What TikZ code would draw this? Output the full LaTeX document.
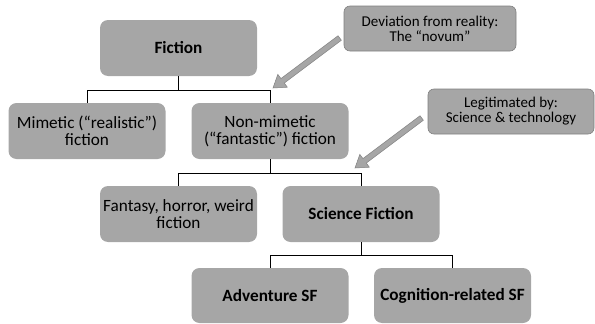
\documentclass[tikz,border=0pt]{standalone}
\usepackage{fontspec}
\setmainfont{Carlito}
\usetikzlibrary{calc}
\definecolor{boxgray}{HTML}{A6A6A6}
\definecolor{linegray}{HTML}{808080}

\newcommand{\blockarrow}[2]{%
    \coordinate (h) at ($(#2)!12pt!(#1)$);
    \draw[draw=linegray, fill=boxgray, line width=0.5pt]
        ($(#1)!2.8pt!90:(#2)$) -- ($(h)!2.8pt!90:(#2)$)
        -- ($(h)!8pt!90:(#2)$) -- (#2)
        -- ($(h)!8pt!-90:(#2)$) -- ($(h)!2.8pt!-90:(#2)$)
        -- ($(#1)!2.8pt!-90:(#2)$) -- cycle;
}

\begin{document}
\begin{tikzpicture}[x=1pt, y=-1pt,
        box/.style={fill=boxgray, rounded corners=8pt, align=center,
            inner sep=0pt, minimum width=157pt, minimum height=56pt,
            font=\fontsize{17.2}{17}\selectfont},
        note/.style={fill=boxgray, draw=linegray, line width=0.6pt,
            rounded corners=6pt, align=center, inner sep=0pt,
            minimum height=45pt, font=\fontsize{15}{15}\selectfont}
    ]
    \useasboundingbox (0, 0) rectangle (595, 324);

    \node[box] (fic) at (178.5, 48) {\textbf{Fiction}};
    \node[box] (mim) at (87, 131) {Mimetic (“realistic”)\\fiction};
    \node[box] (non) at (270, 131) {Non-mimetic\\(“fantastic”) fiction};
    \node[box] (fan) at (178.5, 214) {Fantasy, horror, weird\\fiction};
    \node[box] (sf) at (361, 214) {\textbf{Science Fiction}};
    \node[box, minimum height=55pt] (adv) at (270, 295.5) {\textbf{Adventure SF}};
    \node[box, minimum height=55pt] (cog) at (452.5, 295.5) {\textbf{Cognition-related SF}};

    \node[note, minimum width=172pt] (dev) at (430, 28.5)
        {Deviation from reality:\\The “novum”};
    \node[note, minimum width=166pt] (leg) at (511, 111.5)
        {Legitimated by:\\Science \& technology};

    % tree
    \draw (fic.south) -- ++(0, 14) coordinate (j1);
    \draw (mim.north) |- (j1) -| (non.north);
    \draw (non.south) -- ++(0, 14) coordinate (j2);
    \draw (fan.north) |- (j2) -| (sf.north);
    \draw (sf.south) -- ++(0, 13) coordinate (j3);
    \draw (adv.north) |- (j3) -| (cog.north);

    % callout arrows
    \coordinate (s1) at ($(dev.west)+(-4, 9.5)$);
    \coordinate (t1) at (273, 88);
    \coordinate (s2) at ($(leg.west)+(-6, 6.5)$);
    \coordinate (t2) at (355, 168);
    \blockarrow{s1}{t1}
    \blockarrow{s2}{t2}
\end{tikzpicture}
\end{document}
